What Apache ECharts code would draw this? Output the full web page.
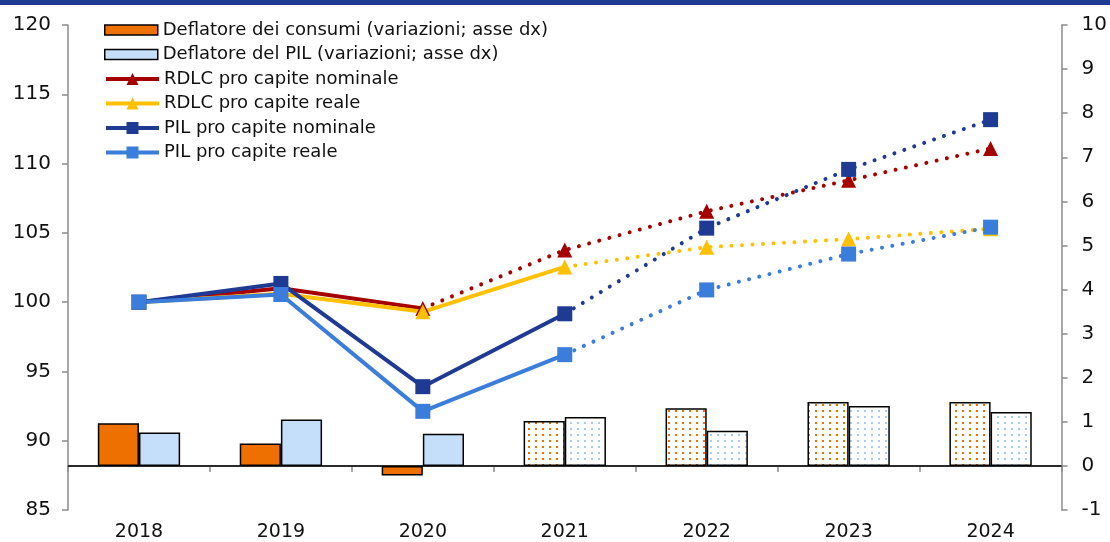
<!DOCTYPE html>
<html><head><meta charset="utf-8">
<script src="https://cdn.jsdelivr.net/npm/echarts@6/dist/echarts.min.js"></script>
<style>html,body{margin:0;padding:0;background:#fff}#c{width:1110px;height:542px}</style>
</head><body><div id="c"></div>
<script>
const years = ['2018', '2019', '2020', '2021', '2022', '2023', '2024'];
const deflConsumi = [0.97, 0.51, -0.22, 1.02, 1.31, 1.45, 1.45];
const deflPil = [0.76, 1.05, 0.73, 1.11, 0.80, 1.36, 1.22];
const rdlcNom = [100, 101.0, 99.55, 103.76, 106.56, 108.79, 111.09];
const rdlcReale = [100, 100.6, 99.3, 102.54, 103.97, 104.55, 105.3];
const pilNom = [100, 101.35, 93.9, 99.16, 105.34, 109.58, 113.17];
const pilReale = [100, 100.55, 92.12, 96.21, 100.88, 103.47, 105.41];
const firstForecast = 3;          // 2021: bars drawn with dotted pattern from here
const lastSolid = {rdlcNom: 2, rdlcReale: 3, pilNom: 3, pilReale: 3};

const FONT = 'DejaVu Sans';
const C = {orange: '#EE7000', lightBlue: '#C5DFFA', red: '#A50000', yellow: '#FFC000', navy: '#1F3A93', blue: '#3A7DDA'};

function pattern(color) {
  const c = document.createElement('canvas');
  c.width = 7; c.height = 6;
  const g = c.getContext('2d');
  g.fillStyle = '#fff'; g.fillRect(0, 0, 7, 6);
  g.fillStyle = color; g.fillRect(3, 2, 2, 2);
  return {image: c, repeat: 'repeat'};
}
function barData(arr, dotColor) {
  return arr.map((v, i) => i >= firstForecast ? {value: v, itemStyle: {color: pattern(dotColor)}} : v);
}
function solidPart(arr, k) { return arr.map((v, i) => i <= k ? v : null); }
function dottedPart(arr, k) { return arr.map((v, i) => i < k ? null : (i === k ? {value: v, symbol: 'none'} : v)); }

function lineSeries(name, arr, k, color, symbol) {
  const common = {type: 'line', name, yAxisIndex: 0, color, symbol, symbolSize: 15,
    showAllSymbol: true, itemStyle: {color}, z: 5};
  return [
    Object.assign({}, common, {data: solidPart(arr, k), lineStyle: {width: 4, color}}),
    Object.assign({}, common, {data: dottedPart(arr, k), lineStyle: {width: 4, color, type: [0.01, 10.5], cap: 'round'}})
  ];
}

const chart = echarts.init(document.getElementById('c'), null, {renderer: 'canvas'});
const axisGray = '#8c8c8c';
const legendText = {fontSize: 18, fontFamily: FONT, color: '#111'};
chart.setOption({
  animation: false,
  backgroundColor: '#fff',
  textStyle: {fontFamily: FONT},
  graphic: [{type: 'rect', left: 0, top: 0, shape: {width: 1110, height: 5}, style: {fill: C.navy}}],
  grid: {left: 68, right: 46, top: 25, bottom: 30, containLabel: false},
  legend: [
    {data: ['Deflatore dei consumi (variazioni; asse dx)', 'Deflatore del PIL (variazioni; asse dx)'],
     icon: 'rect', orient: 'vertical', left: 104, top: 21, padding: 0, itemWidth: 53, itemHeight: 10, itemGap: 6.5,
     itemStyle: {borderColor: '#000', borderWidth: 1.5},
     textStyle: legendText},
    {data: ['RDLC pro capite nominale', 'RDLC pro capite reale', 'PIL pro capite nominale', 'PIL pro capite reale'],
     orient: 'vertical', left: 104, top: 70, padding: 0, itemWidth: 53, itemHeight: 15, itemGap: 6.5,
     lineStyle: {width: 4, type: 'solid'},
     textStyle: legendText}
  ],
  xAxis: {type: 'category', data: years, boundaryGap: true,
    axisLine: {show: true, lineStyle: {color: axisGray, width: 1.5}},
    axisTick: {show: true, length: 6, lineStyle: {color: axisGray, width: 1.5}},
    axisLabel: {color: '#111', fontSize: 19, fontFamily: FONT, margin: 13},
    splitLine: {show: false}},
  yAxis: [
    {type: 'value', position: 'left', min: 85, max: 120, interval: 5,
     axisLine: {show: true, lineStyle: {color: axisGray, width: 1.5}},
     axisTick: {show: true, length: 6, lineStyle: {color: axisGray, width: 1.5}},
     axisLabel: {color: '#111', fontSize: 20, fontFamily: FONT, margin: 17},
     splitLine: {show: false}},
    {type: 'value', position: 'right', min: -1, max: 10, interval: 1,
     axisLine: {show: true, lineStyle: {color: axisGray, width: 1.5}},
     axisTick: {show: true, length: 6, lineStyle: {color: axisGray, width: 1.5}},
     axisLabel: {color: '#111', fontSize: 20, fontFamily: FONT, margin: 20},
     splitLine: {show: false}}
  ],
  series: [
    {type: 'bar', name: 'Deflatore dei consumi (variazioni; asse dx)', yAxisIndex: 1,
     data: barData(deflConsumi, C.orange), barGap: '0%', barCategoryGap: '42%',
     itemStyle: {color: C.orange, borderColor: '#000', borderWidth: 1.5},
     markLine: {silent: true, symbol: 'none', label: {show: false},
       lineStyle: {color: '#000', width: 1.5, type: 'solid'}, data: [{yAxis: 0}]}},
    {type: 'bar', name: 'Deflatore del PIL (variazioni; asse dx)', yAxisIndex: 1,
     data: barData(deflPil, '#A9CDF2'), barGap: '0%', barCategoryGap: '42%',
     itemStyle: {color: C.lightBlue, borderColor: '#000', borderWidth: 1.5}},
    ...lineSeries('RDLC pro capite nominale', rdlcNom, lastSolid.rdlcNom, C.red, 'triangle'),
    ...lineSeries('RDLC pro capite reale', rdlcReale, lastSolid.rdlcReale, C.yellow, 'triangle'),
    ...lineSeries('PIL pro capite nominale', pilNom, lastSolid.pilNom, C.navy, 'rect'),
    ...lineSeries('PIL pro capite reale', pilReale, lastSolid.pilReale, C.blue, 'rect')
  ]
});
</script></body></html>
